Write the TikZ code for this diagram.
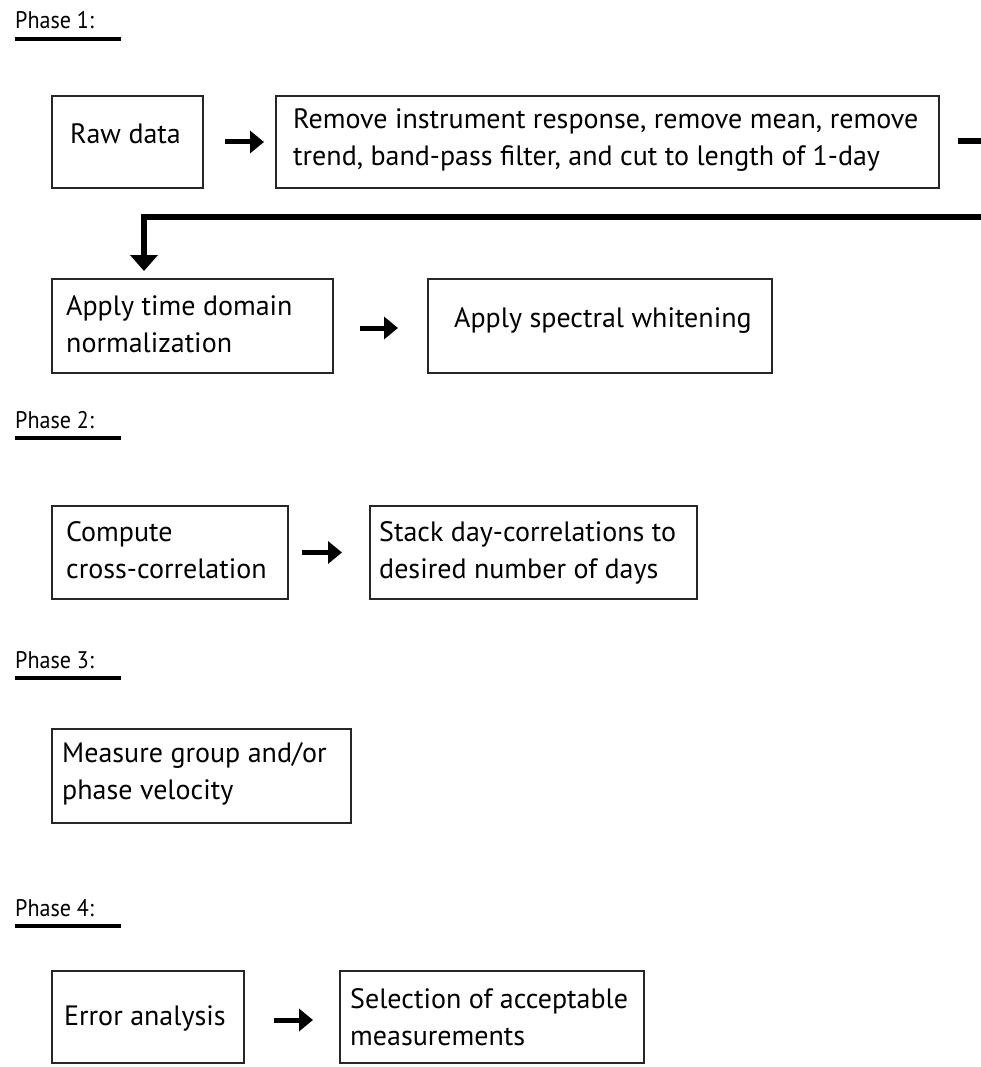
\documentclass[tikz,border=0pt]{standalone}
\usepackage{fontspec}
\setmainfont{PT Sans}
\newfontfamily\phasefont[FakeStretch=0.92]{PT Sans}
\usetikzlibrary{arrows.meta}
\begin{document}
\begin{tikzpicture}[x=1pt,y=-1pt,
  box/.style={draw=black!85, line width=2pt, anchor=north west, inner sep=0pt},
  txt/.style={anchor=west, inner sep=0pt, align=left, font=\fontsize{28}{37}\selectfont},
  phase/.style={anchor=base west, inner sep=0pt, font=\phasefont\fontsize{24}{26}\selectfont},
  uline/.style={line width=4.5pt},
  flow/.style={line width=5pt, -{Triangle[length=14pt,width=22pt]}},
  link/.style={line width=6pt}]
\fill[white] (0,0) rectangle (981,1067);
\useasboundingbox (0,0) rectangle (981,1067);
\clip (0,0) rectangle (981,1067);

% Phase labels
\node[phase] (ph1) at (15,29) {Phase 1:};
\node[phase] (ph2) at (15,428) {Phase 2:};
\node[phase] (ph3) at (15,668) {Phase 3:};
\node[phase] (ph4) at (15,916) {Phase 4:};
\foreach \p in {ph1,ph2,ph3,ph4}
  \draw[uline] ([yshift=-10pt]\p.base west) -- ++(106,0);

% Boxes
\node[box, minimum width=151, minimum height=92] (raw) at (51,95) {};
\node[txt] (rawt) at ([xshift=19pt, yshift=8pt]raw.west) {Raw data};

\node[box, minimum width=663, minimum height=92] (prep) at (275,95) {};
\node[txt] (prept) at ([xshift=18pt, yshift=2pt]prep.west) {Remove instrument response, remove mean, remove\\trend, band-pass filter, and cut to length of 1-day};

\node[box, minimum width=281, minimum height=94] (norm) at (51,278) {};
\node[txt] (normt) at ([xshift=15pt, yshift=2pt]norm.west) {Apply time domain\\normalization};

\node[box, minimum width=344, minimum height=94] (white) at (427,278) {};
\node[txt] (whitet) at ([xshift=27pt, yshift=5pt]white.west) {Apply spectral whitening};

\node[box, minimum width=236, minimum height=93] (xc) at (51,505) {};
\node[txt] (xct) at ([xshift=15pt, yshift=2pt]xc.west) {Compute\\cross-correlation};

\node[box, minimum width=327, minimum height=93] (stack) at (369,505) {};
\node[txt] (stackt) at ([xshift=10pt, yshift=0pt]stack.west) {Stack day-correlations to\\desired number of days};

\node[box, minimum width=299, minimum height=94] (meas) at (51,728) {};
\node[txt] (meast) at ([xshift=11pt, yshift=2pt]meas.west) {Measure group and/or\\phase velocity};

\node[box, minimum width=192, minimum height=92] (err) at (51,970) {};
\node[txt] (errt) at ([xshift=13pt, yshift=-1pt]err.west) {Error analysis};

\node[box, minimum width=304, minimum height=92] (sel) at (339,970) {};
\node[txt] (selt) at ([xshift=11pt, yshift=0pt]sel.west) {Selection of acceptable\\measurements};

% Arrows
\draw[flow] ([xshift=21pt]raw.east) -- ([xshift=-11pt]prep.west);
\draw[flow] ([xshift=26pt, yshift=-2pt]norm.east) -- ([xshift=-29pt, yshift=-2pt]white.west);
\draw[flow] ([xshift=13pt]xc.east) -- ([xshift=-27pt]stack.west);
\draw[flow] ([xshift=29pt, yshift=-3pt]err.east) -- ([xshift=-26pt, yshift=-3pt]sel.west);

% Long connector
\coordinate (turn) at (1000,217);
\draw[link, -{Triangle[length=16pt,width=27pt]}] ([xshift=18pt, yshift=1pt]prep.east) -| (turn) -| ([xshift=-48.5pt, yshift=7pt]norm.north);
\end{tikzpicture}
\end{document}
